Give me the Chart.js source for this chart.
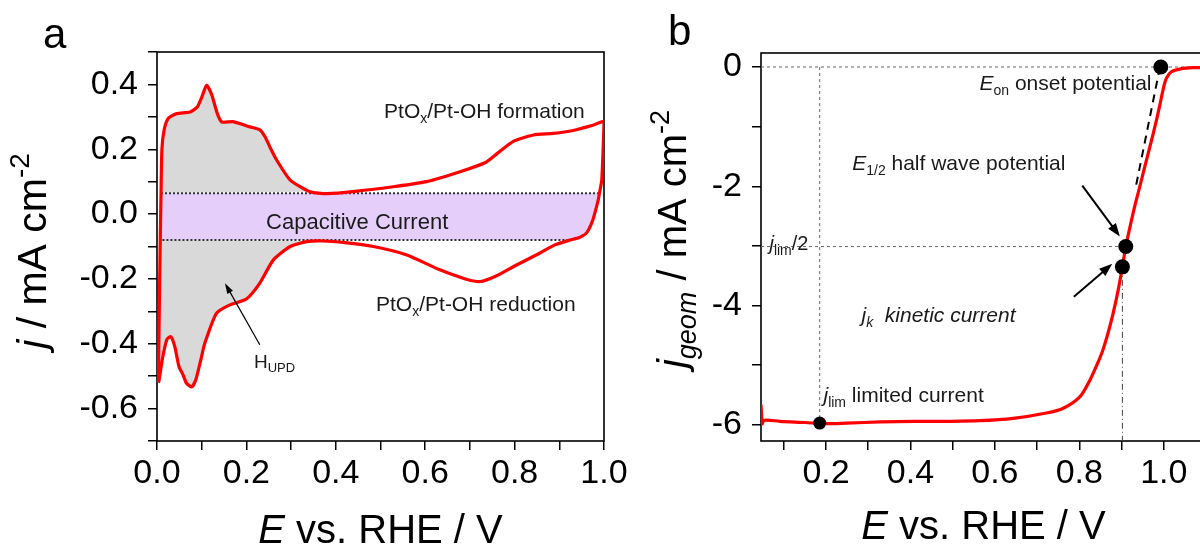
<!DOCTYPE html>
<html>
<head>
<meta charset="utf-8">
<script src="https://cdn.jsdelivr.net/npm/chart.js@4.4.1/dist/chart.umd.min.js"></script>
<style>
  html, body { margin: 0; padding: 0; background: #fff; }
  body { width: 1200px; height: 549px; overflow: hidden; position: relative; }
  #wa { position: absolute; left: 0; top: 0; width: 660px; height: 549px; }
  #wb { position: absolute; left: 620px; top: 0; width: 620px; height: 549px; }
</style>
</head>
<body>
<div id="wb"><canvas id="cvB" width="620" height="549"></canvas></div>
<div id="wa"><canvas id="cvA" width="660" height="549"></canvas></div>
<script>
const FONT = '"Liberation Sans", Arial, Helvetica, sans-serif';

// --- panel a: CV of Pt, forward (anodic) and backward (cathodic) scan ---
const cvAnodicE = [0.003, 0.006, 0.009, 0.011, 0.016, 0.025, 0.044, 0.074, 0.090, 0.100, 0.111, 0.122, 0.135, 0.145, 0.170, 0.208, 0.230, 0.242, 0.255, 0.268, 0.298, 0.342, 0.381, 0.443, 0.532, 0.603, 0.683, 0.736, 0.762, 0.798, 0.842, 0.887, 0.931, 0.975, 1.000];
const cvAnodicJ = [-0.520, -0.200, 0.066, 0.200, 0.260, 0.295, 0.310, 0.315, 0.330, 0.360, 0.397, 0.370, 0.310, 0.284, 0.285, 0.269, 0.260, 0.238, 0.200, 0.166, 0.105, 0.069, 0.063, 0.070, 0.085, 0.100, 0.133, 0.160, 0.188, 0.225, 0.244, 0.249, 0.258, 0.274, 0.285];
const cvCathodicE = [1.000, 0.998, 0.995, 0.990, 0.987, 0.975, 0.961, 0.945, 0.924, 0.890, 0.857, 0.800, 0.760, 0.723, 0.690, 0.633, 0.559, 0.484, 0.420, 0.372, 0.335, 0.298, 0.260, 0.230, 0.200, 0.163, 0.133, 0.107, 0.098, 0.087, 0.078, 0.066, 0.058, 0.049, 0.040, 0.031, 0.022, 0.013, 0.004];
const cvCathodicJ = [0.285, 0.200, 0.105, 0.066, 0.043, -0.018, -0.058, -0.072, -0.080, -0.095, -0.120, -0.160, -0.190, -0.208, -0.200, -0.172, -0.126, -0.100, -0.088, -0.083, -0.085, -0.100, -0.142, -0.213, -0.262, -0.280, -0.306, -0.398, -0.450, -0.510, -0.533, -0.522, -0.495, -0.470, -0.410, -0.378, -0.387, -0.440, -0.517];
const capTop = 0.064, capBottom = -0.080;
const aTickX = [0, 0.1, 0.2, 0.3, 0.4, 0.5, 0.6, 0.7, 0.8, 0.9, 1.0];
const aLabelX = ['0.0', '', '0.2', '', '0.4', '', '0.6', '', '0.8', '', '1.0'];
const aTickY = [-0.7, -0.6, -0.5, -0.4, -0.3, -0.2, -0.1, 0, 0.1, 0.2, 0.3, 0.4, 0.5];
const aLabelY = ['', '-0.6', '', '-0.4', '', '-0.2', '', '0.0', '', '0.2', '', '0.4', ''];

// --- panel b: ORR polarization curve ---
const lsvE = [0.046, 0.049, 0.052, 0.060, 0.091, 0.150, 0.200, 0.249, 0.330, 0.407, 0.490, 0.564, 0.643, 0.722, 0.762, 0.801, 0.825, 0.840, 0.855, 0.868, 0.880, 0.892, 0.902, 0.910, 0.920, 0.931, 0.943, 0.955, 0.967, 0.979, 0.990, 0.998, 1.006, 1.018, 1.040, 1.070, 1.100];
const lsvJ = [-5.66, -5.98, -5.93, -5.92, -5.94, -5.96, -5.98, -5.97, -5.95, -5.94, -5.94, -5.93, -5.89, -5.80, -5.72, -5.53, -5.25, -5.02, -4.76, -4.46, -4.13, -3.74, -3.35, -3.01, -2.68, -2.34, -2.01, -1.67, -1.34, -1.00, -0.66, -0.39, -0.19, -0.08, -0.03, -0.01, -0.01];
// onset, half wave, kinetic, limiting points
const keyE = [0.993, 0.910, 0.902, 0.185];
const keyJ = [0, -3.01, -3.35, -5.97];
const keyR = [7.5, 7.5, 7.5, 6.5];
const tangentE = [0.991, 0.934];
const tangentJ = [0, -2.0];
const bTickX = [0.1, 0.2, 0.3, 0.4, 0.5, 0.6, 0.7, 0.8, 0.9, 1.0, 1.1];
const bLabelX = ['', '0.2', '', '0.4', '', '0.6', '', '0.8', '', '1.0', ''];
const bTickY = [-6, -5, -4, -3, -2, -1, 0];
const bLabelY = ['-6', '', '-4', '', '-2', '', '0'];

const pts = (xs, ys) => xs.map((x, i) => ({x, y: ys[i]}));

function crossX(p, level) {
  for (let i = 0; i < p.length - 1; i++) {
    const a = p[i], b = p[i + 1];
    if ((a.y - level) * (b.y - level) <= 0 && a.y !== b.y) {
      return a.x + (level - a.y) * (b.x - a.x) / (b.y - a.y);
    }
  }
  return p[0].x;
}

function rich(ctx, x, y, parts, size, align) {
  const items = parts.map(([t, s = '']) => {
    const small = s.includes('sub') || s.includes('sup');
    const fs = small ? Math.round(size * 0.68) : size;
    const font = (s.startsWith('i') ? 'italic ' : '') + fs + 'px ' + FONT;
    ctx.font = font;
    return {t, font, w: ctx.measureText(t).width,
      dy: s.includes('sub') ? size * 0.24 : s.includes('sup') ? -size * 0.42 : 0};
  });
  const total = items.reduce((s, it) => s + it.w, 0);
  let cx = align === 'center' ? x - total / 2 : align === 'right' ? x - total : x;
  ctx.textAlign = 'left';
  ctx.textBaseline = 'alphabetic';
  items.forEach(it => { ctx.font = it.font; ctx.fillText(it.t, cx, y + it.dy); cx += it.w; });
}

function arrow(ctx, x1, y1, x2, y2, lw, head, spread) {
  const ang = Math.atan2(y2 - y1, x2 - x1);
  ctx.save();
  ctx.strokeStyle = '#000';
  ctx.fillStyle = '#000';
  ctx.lineWidth = lw;
  ctx.beginPath();
  ctx.moveTo(x1, y1);
  ctx.lineTo(x2 - Math.cos(ang) * head * 0.7, y2 - Math.sin(ang) * head * 0.7);
  ctx.stroke();
  ctx.beginPath();
  ctx.moveTo(x2, y2);
  ctx.lineTo(x2 - head * Math.cos(ang - spread), y2 - head * Math.sin(ang - spread));
  ctx.lineTo(x2 - head * Math.cos(ang + spread), y2 - head * Math.sin(ang + spread));
  ctx.closePath();
  ctx.fill();
  ctx.restore();
}

const frame = {
  id: 'frame',
  beforeDatasetsDraw(chart) {
    const {ctx, chartArea: a} = chart;
    ctx.save();
    ctx.strokeStyle = '#000';
    ctx.lineWidth = 1.6;
    ctx.strokeRect(a.left, a.top, a.right - a.left, a.bottom - a.top);
    ctx.restore();
  }
};

function axisOpts(min, max, vals, labels, size, pad) {
  return {
    type: 'linear', min, max,
    afterBuildTicks: s => { s.ticks = vals.map(v => ({value: v})); },
    afterFit: s => { if (s.isHorizontal()) s.height = size; else s.width = size; },
    grid: {drawOnChartArea: false, color: '#000', lineWidth: 1.5, tickLength: 9},
    border: {display: false},
    ticks: {
      autoSkip: false, maxRotation: 0, minRotation: 0, padding: pad, color: '#000',
      font: {family: FONT, size: 34},
      callback: v => {
        const k = vals.findIndex(t => Math.abs(t - v) < 1e-9);
        return k >= 0 ? labels[k] : '';
      }
    }
  };
}

// ---------- chart a ----------
const anodic = pts(cvAnodicE, cvAnodicJ);
const cathodic = pts(cvCathodicE, cvCathodicJ);
const cvLoop = anodic.concat(cathodic.slice(1), [anodic[0]]);
const grayUpper = anodic.filter(p => p.x < 0.4 && p.y >= capTop);
const grayLower = cathodic.filter(p => p.x < 0.4 && p.y <= capBottom);
grayLower.push({x: crossX(anodic, capBottom), y: capBottom});
const capBand = [{x: crossX(anodic, capTop), y: capTop}, {x: crossX(cathodic, capTop), y: capTop}]
  .concat(cathodic.filter(p => p.x > 0.5 && p.y < capTop && p.y > capBottom),
    [{x: crossX(cathodic, capBottom), y: capBottom}, {x: crossX(anodic, capBottom), y: capBottom}]);

const decorA = {
  id: 'decorA',
  afterDatasetsDraw(chart) {
    const {ctx, scales: {x, y}, chartArea: a} = chart;
    const X = v => x.getPixelForValue(v), Y = v => y.getPixelForValue(v);
    ctx.save();
    ctx.fillStyle = '#1a1a1a';
    rich(ctx, X(0.508), Y(0.295), [['PtO'], ['x', 'sub'], ['/Pt-OH formation']], 21, 'left');
    rich(ctx, X(0.490), Y(-0.300), [['PtO'], ['x', 'sub'], ['/Pt-OH reduction']], 21, 'left');
    rich(ctx, X(0.244), Y(-0.046), [['Capacitive Current']], 22, 'left');
    rich(ctx, X(0.217), Y(-0.474), [['H'], ['UPD', 'sub']], 19, 'left');
    arrow(ctx, X(0.230), Y(-0.403), X(0.152), Y(-0.213), 1.2, 11, 0.3);
    ctx.fillStyle = '#000';
    rich(ctx, (a.left + a.right) / 2, 543, [['E', 'i'], [' vs. RHE / V']], 40, 'center');
    rich(ctx, 43, 48, [['a']], 42, 'left');
    ctx.translate(46, 251);
    ctx.rotate(-Math.PI / 2);
    rich(ctx, 0, 0, [['j', 'i'], [' / mA cm'], ['-2', 'sup']], 41, 'center');
    ctx.restore();
  }
};

new Chart(document.getElementById('cvA'), {
  type: 'line',
  data: {
    datasets: [
      {data: cvLoop, borderColor: '#ff0000', borderWidth: 3.2, tension: 0.2, pointRadius: 0, fill: false, order: 0},
      {data: capBand, borderColor: '#333', borderWidth: 2, borderDash: [2, 2], backgroundColor: '#e5cffa',
        fill: 'shape', pointRadius: 0, tension: 0, order: 1},
      {data: grayUpper, borderColor: 'transparent', borderWidth: 0, backgroundColor: '#d9d9d9',
        fill: 'shape', pointRadius: 0, tension: 0.2, order: 2},
      {data: grayLower, borderColor: 'transparent', borderWidth: 0, backgroundColor: '#d9d9d9',
        fill: 'shape', pointRadius: 0, tension: 0.2, order: 2}
    ]
  },
  options: {
    responsive: false, animation: false, events: [],
    layout: {padding: {left: 0, top: 52, right: 56, bottom: 0}},
    plugins: {legend: {display: false}, tooltip: {enabled: false}},
    scales: {
      x: axisOpts(0, 1.0, aTickX, aLabelX, 108, 3),
      y: axisOpts(-0.7, 0.5, aTickY, aLabelY, 157, 10)
    }
  },
  plugins: [frame, decorA]
});

// ---------- chart b ----------
const lsv = pts(lsvE, lsvJ);
const keyPts = pts(keyE, keyJ);
const [onset, half, kin, lim] = keyPts;
const bMinX = 0.046, bMinY = -6.27;

const decorB = {
  id: 'decorB',
  afterDatasetsDraw(chart) {
    const {ctx, scales: {x, y}, chartArea: a} = chart;
    const X = v => x.getPixelForValue(v), Y = v => y.getPixelForValue(v);
    ctx.save();
    ctx.fillStyle = '#1a1a1a';
    rich(ctx, X(0.971), Y(-0.385), [['E', 'i'], ['on', 'sub'], [' onset potential']], 21, 'right');
    rich(ctx, X(0.262), Y(-1.73), [['E', 'i'], ['1/2', 'sub'], [' half wave potential']], 21, 'left');
    rich(ctx, X(0.066), Y(-3.07), [['j', 'i'], ['lim', 'sub'], ['/2']], 20, 'left');
    rich(ctx, X(0.284), Y(-4.27), [['j', 'i'], ['k', 'isub'], ['  kinetic current', 'i']], 21, 'left');
    rich(ctx, X(0.194), Y(-5.61), [['j', 'i'], ['lim', 'sub'], [' limited current']], 21, 'left');
    arrow(ctx, X(0.807), Y(-1.99), X(0.896), Y(-2.84), 2, 14, 0.35);
    arrow(ctx, X(0.787), Y(-3.85), X(0.878), Y(-3.30), 2, 14, 0.35);
    ctx.fillStyle = '#000';
    rich(ctx, (a.left + a.right) / 2, 539, [['E', 'i'], [' vs. RHE / V']], 40, 'center');
    rich(ctx, 48, 45, [['b']], 42, 'left');
    ctx.translate(66, 239);
    ctx.rotate(-Math.PI / 2);
    rich(ctx, 0, 0, [['j', 'i'], ['geom', 'isub'], [' / mA cm'], ['-2', 'sup']], 40, 'center');
    ctx.restore();
  }
};

const refLine = (data, dash, color, width, order) => ({
  data, borderColor: color, borderWidth: width, borderDash: dash, pointRadius: 0, fill: false, tension: 0, order
});

new Chart(document.getElementById('cvB'), {
  type: 'line',
  data: {
    datasets: [
      refLine([{x: bMinX, y: onset.y}, {x: 1.1, y: onset.y}], [3, 3], '#666', 1, 3),
      refLine([{x: lim.x, y: onset.y}, {x: lim.x, y: lim.y}], [3, 3], '#666', 1, 3),
      refLine([{x: bMinX, y: half.y}, {x: half.x, y: half.y}], [3, 3], '#666', 1, 3),
      refLine([{x: kin.x, y: kin.y}, {x: kin.x, y: bMinY}], [6, 3, 1, 3], '#444', 1, 3),
      {data: lsv, borderColor: '#ff0000', borderWidth: 3.2, tension: 0.3, pointRadius: 0, fill: false, order: 2},
      refLine(pts(tangentE, tangentJ), [8, 6], '#000', 2, 1),
      {data: keyPts, showLine: false, pointRadius: keyR, pointBackgroundColor: '#000',
        pointBorderColor: '#000', pointBorderWidth: 0, order: 0}
    ]
  },
  options: {
    responsive: false, animation: false, events: [],
    layout: {padding: {left: 0, top: 53, right: 34, bottom: 0}},
    plugins: {legend: {display: false}, tooltip: {enabled: false}},
    scales: {
      x: axisOpts(bMinX, 1.1, bTickX, bLabelX, 108, 3),
      y: axisOpts(bMinY, 0.235, bTickY, bLabelY, 141, 10)
    }
  },
  plugins: [frame, decorB]
});
</script>
</body>
</html>
